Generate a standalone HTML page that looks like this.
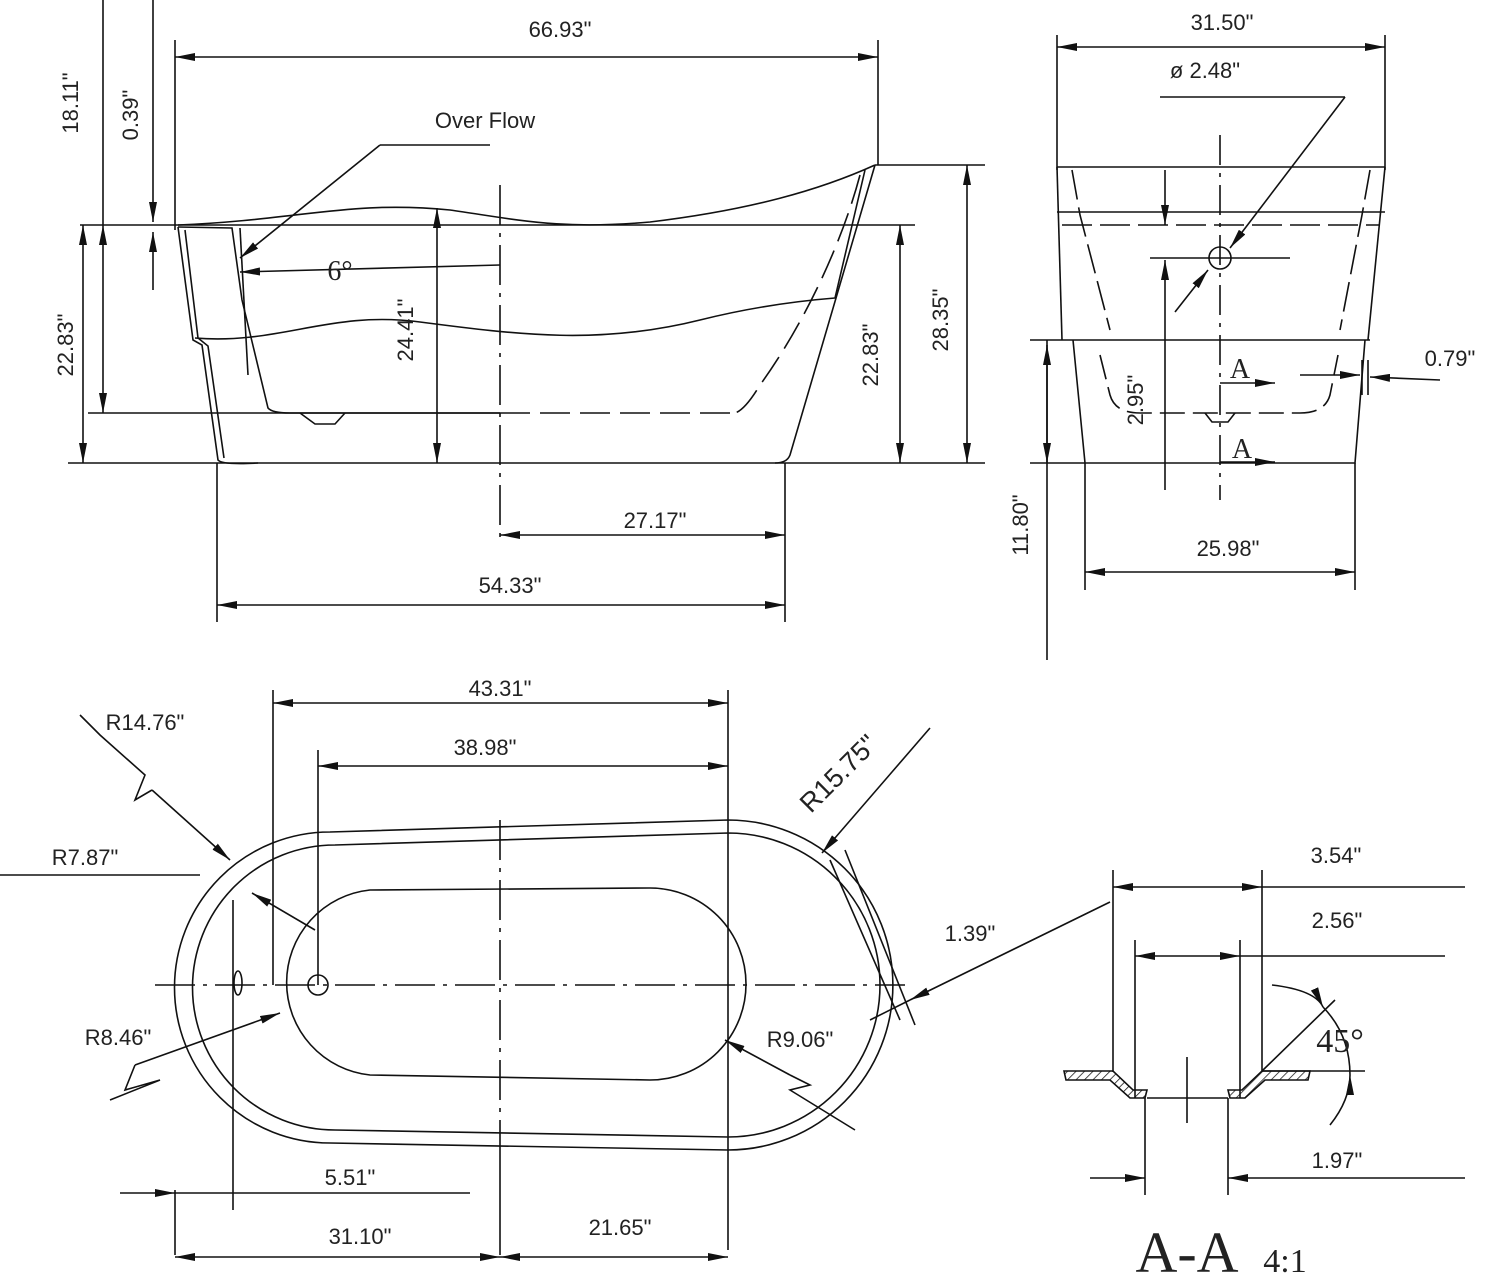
<!DOCTYPE html>
<html><head><meta charset="utf-8"><style>
html,body{margin:0;padding:0;background:#fff;}
svg{display:block}
text{font-family:"Liberation Sans",sans-serif;font-size:22px;fill:#222;}
.s{font-family:"Liberation Serif",serif;}
</style></head><body>
<svg width="1500" height="1282" viewBox="0 0 1500 1282" xmlns="http://www.w3.org/2000/svg">
<defs>
<marker id="a" viewBox="0 0 20 8" refX="20" refY="4" markerWidth="20" markerHeight="8" orient="auto-start-reverse" markerUnits="userSpaceOnUse"><path d="M0,0 L20,4 L0,8z" fill="#111"/></marker>
<pattern id="h" width="6" height="6" patternUnits="userSpaceOnUse" patternTransform="rotate(45)"><line x1="0" y1="0" x2="0" y2="6" stroke="#111" stroke-width="1.5"/></pattern>
</defs>
<g stroke="#111" stroke-width="1.6" fill="none">
<!-- TOP LEFT: side view -->
<line x1="103" y1="0" x2="103" y2="225"/>
<line x1="153" y1="0" x2="153" y2="222" marker-end="url(#a)"/>
<line x1="153" y1="290" x2="153" y2="232" marker-end="url(#a)"/>
<line x1="175" y1="40" x2="175" y2="230"/>
<line x1="175" y1="57" x2="878" y2="57" marker-start="url(#a)" marker-end="url(#a)"/>
<line x1="878" y1="40" x2="878" y2="165"/>
<line x1="875" y1="165" x2="985" y2="165"/>
<line x1="80" y1="225" x2="915" y2="225"/>
<line x1="88" y1="413" x2="500" y2="413"/>
<line x1="500" y1="413" x2="740" y2="413" stroke-dasharray="30,10"/>
<line x1="68" y1="463" x2="985" y2="463"/>
<line x1="83" y1="225" x2="83" y2="463" marker-start="url(#a)" marker-end="url(#a)"/>
<line x1="103" y1="225" x2="103" y2="413" marker-start="url(#a)" marker-end="url(#a)"/>
<line x1="437" y1="208" x2="437" y2="463" marker-start="url(#a)" marker-end="url(#a)"/>
<line x1="900" y1="225" x2="900" y2="463" marker-start="url(#a)" marker-end="url(#a)"/>
<line x1="967" y1="165" x2="967" y2="463" marker-start="url(#a)" marker-end="url(#a)"/>
<line x1="500" y1="185" x2="500" y2="545" stroke-dasharray="40,8,4,8"/>
<line x1="500" y1="535" x2="785" y2="535" marker-start="url(#a)" marker-end="url(#a)"/>
<line x1="217" y1="605" x2="785" y2="605" marker-start="url(#a)" marker-end="url(#a)"/>
<line x1="217" y1="463" x2="217" y2="622"/>
<line x1="785" y1="463" x2="785" y2="622"/>
<path d="M178,225 C300,220 350,200 450,210 C520,220 560,230 650,222 C750,210 820,190 875,165"/>
<path d="M875,165 L790,455 Q787,463 775,463"/>
<path d="M178,227 L193,340 L202,345 L218,460 Q222,465 258,463"/>
<path d="M185,230 L198,338 L208,346 L224,458"/>
<path d="M178,227 L232,228 L242,300 L268,408 Q272,413 290,413 L500,413"/>
<path d="M860,175 C840,250 800,330 760,385 Q745,410 735,413" stroke-dasharray="30,10"/>
<path d="M195,338 C280,345 330,310 420,322 C520,335 600,345 700,320 C760,305 810,300 835,298 L865,170"/>
<path d="M240,228 L248,375"/>
<path d="M300,413 L315,424 L335,424 L345,413"/>
<line x1="490" y1="145" x2="380" y2="145"/>
<line x1="380" y1="145" x2="240" y2="258" marker-end="url(#a)"/>
<line x1="500" y1="265" x2="240" y2="272" marker-end="url(#a)"/>
<!-- TOP RIGHT: end view -->
<line x1="1057" y1="35" x2="1057" y2="170"/>
<line x1="1385" y1="35" x2="1385" y2="170"/>
<line x1="1057" y1="47" x2="1385" y2="47" marker-start="url(#a)" marker-end="url(#a)"/>
<line x1="1057" y1="167" x2="1385" y2="167"/>
<line x1="1057" y1="167" x2="1062" y2="340"/>
<line x1="1385" y1="167" x2="1368" y2="340"/>
<line x1="1057" y1="212" x2="1385" y2="212"/>
<line x1="1062" y1="225" x2="1380" y2="225" stroke-dasharray="30,8"/>
<path d="M1072,170 L1080,215 L1110,330" stroke-dasharray="30,8"/>
<path d="M1370,170 L1362,215 L1340,330" stroke-dasharray="30,8"/>
<line x1="1030" y1="340" x2="1370" y2="340"/>
<path d="M1073,340 L1085,463 L1355,463 L1365,340"/>
<path d="M1100,355 L1110,395 Q1115,413 1140,413 L1300,413 Q1325,413 1330,395 L1338,355" stroke-dasharray="25,8"/>
<line x1="1047" y1="340" x2="1047" y2="660"/>
<line x1="1047" y1="345" x2="1047" y2="463" marker-start="url(#a)" marker-end="url(#a)"/>
<line x1="1030" y1="463" x2="1085" y2="463"/>
<line x1="1085" y1="463" x2="1085" y2="590"/>
<line x1="1355" y1="463" x2="1355" y2="590"/>
<line x1="1085" y1="572" x2="1355" y2="572" marker-start="url(#a)" marker-end="url(#a)"/>
<line x1="1220" y1="135" x2="1220" y2="500" stroke-dasharray="30,8,4,8"/>
<line x1="1160" y1="97" x2="1345" y2="97"/>
<line x1="1345" y1="97" x2="1230" y2="248" marker-end="url(#a)"/>
<line x1="1175" y1="312" x2="1208" y2="270" marker-end="url(#a)"/>
<circle cx="1220" cy="258" r="11"/>
<line x1="1150" y1="258" x2="1290" y2="258"/>
<line x1="1165" y1="170" x2="1165" y2="225" marker-end="url(#a)"/>
<line x1="1165" y1="490" x2="1165" y2="260" marker-end="url(#a)"/>
<line x1="1220" y1="383" x2="1275" y2="383" marker-end="url(#a)"/>
<line x1="1220" y1="462" x2="1275" y2="462" marker-end="url(#a)"/>
<path d="M1205,413 L1212,422 L1228,422 L1235,413"/>
<line x1="1300" y1="375" x2="1360" y2="375" marker-end="url(#a)"/>
<line x1="1440" y1="380" x2="1370" y2="377" marker-end="url(#a)"/>
<line x1="1362" y1="360" x2="1362" y2="395"/><line x1="1368" y1="360" x2="1368" y2="395"/>
<!-- BOTTOM LEFT: plan view -->
<path d="M330,832 L728,820 A165,165 0 0 1 728,1150 L330,1143 A155,155 0 0 1 330,832z"/>
<path d="M335,845 L728,833 A152,152 0 0 1 728,1137 L335,1130 A142,142 0 0 1 335,845z"/>
<path d="M370,890 L650,888 A96,96 0 0 1 650,1080 L370,1075 A93,93 0 0 1 370,890z"/>
<line x1="155" y1="985" x2="905" y2="985" stroke-dasharray="40,8,4,8"/>
<line x1="500" y1="820" x2="500" y2="1150" stroke-dasharray="40,8,4,8"/>
<circle cx="318" cy="985" r="10"/>
<ellipse cx="238" cy="983" rx="4" ry="12"/>
<line x1="273" y1="690" x2="273" y2="985"/>
<line x1="318" y1="750" x2="318" y2="985"/>
<line x1="728" y1="690" x2="728" y2="1250"/>
<line x1="233" y1="900" x2="233" y2="1210"/>
<line x1="175" y1="1190" x2="175" y2="1255"/>
<line x1="500" y1="1150" x2="500" y2="1255"/>
<line x1="273" y1="703" x2="728" y2="703" marker-start="url(#a)" marker-end="url(#a)"/>
<line x1="318" y1="766" x2="728" y2="766" marker-start="url(#a)" marker-end="url(#a)"/>
<line x1="120" y1="1193" x2="175" y2="1193" marker-end="url(#a)"/>
<line x1="175" y1="1193" x2="470" y2="1193"/>
<line x1="175" y1="1257" x2="500" y2="1257" marker-start="url(#a)" marker-end="url(#a)"/>
<line x1="500" y1="1257" x2="728" y2="1257" marker-start="url(#a)" marker-end="url(#a)"/>
<path d="M80,715 L100,735 L145,775 L135,800 L152,790"/>
<line x1="152" y1="790" x2="230" y2="860" marker-end="url(#a)"/>
<line x1="0" y1="875" x2="200" y2="875"/>
<line x1="315" y1="930" x2="252" y2="893" marker-end="url(#a)"/>
<path d="M110,1100 L160,1080 L125,1090 L135,1065"/>
<line x1="135" y1="1065" x2="280" y2="1013" marker-end="url(#a)"/>
<path d="M855,1130 L790,1090 L810,1085 L790,1075"/>
<line x1="790" y1="1075" x2="725" y2="1040" marker-end="url(#a)"/>
<line x1="930" y1="728" x2="822" y2="853" marker-end="url(#a)"/>
<line x1="830" y1="860" x2="900" y2="1020"/>
<line x1="845" y1="850" x2="915" y2="1025"/>
<line x1="1110" y1="902" x2="910" y2="1000" marker-end="url(#a)"/>
<line x1="910" y1="1000" x2="870" y2="1020"/>
<!-- BOTTOM RIGHT: section A-A -->
<line x1="1113" y1="870" x2="1113" y2="1072"/>
<line x1="1262" y1="870" x2="1262" y2="1072"/>
<line x1="1113" y1="887" x2="1262" y2="887" marker-start="url(#a)" marker-end="url(#a)"/>
<line x1="1262" y1="887" x2="1465" y2="887"/>
<line x1="1135" y1="940" x2="1135" y2="1098"/>
<line x1="1240" y1="940" x2="1240" y2="1098"/>
<line x1="1135" y1="956" x2="1240" y2="956" marker-start="url(#a)" marker-end="url(#a)"/>
<line x1="1240" y1="956" x2="1445" y2="956"/>
<path d="M1064,1071 H1113 L1133,1090 H1147 L1145,1098 H1130 L1110,1080 H1066 Z" fill="url(#h)"/>
<path d="M1310,1071 H1262 L1242,1090 H1228 L1230,1098 H1245 L1265,1080 H1308 Z" fill="url(#h)"/>
<line x1="1147" y1="1098" x2="1228" y2="1098"/>
<line x1="1262" y1="1071" x2="1365" y2="1071"/>
<line x1="1187" y1="1057" x2="1187" y2="1123"/>
<line x1="1262" y1="1071" x2="1335" y2="1000"/>
<path d="M1272,985 Q1315,990 1323,1007" marker-end="url(#a)"/>
<path d="M1330,1125 Q1350,1100 1350,1075" marker-end="url(#a)"/>
<path d="M1323,1007 Q1350,1035 1350,1075"/>
<line x1="1145" y1="1098" x2="1145" y2="1195"/>
<line x1="1228" y1="1098" x2="1228" y2="1195"/>
<line x1="1090" y1="1178" x2="1145" y2="1178" marker-end="url(#a)"/>
<line x1="1465" y1="1178" x2="1228" y2="1178" marker-end="url(#a)"/>
</g>
<text x="560" y="37" text-anchor="middle">66.93"</text>
<text x="485" y="128" text-anchor="middle">Over Flow</text>
<text x="340" y="280" class="s" text-anchor="middle" style="font-size:28px">6°</text>
<text transform="translate(78,103) rotate(-90)" text-anchor="middle">18.11"</text>
<text transform="translate(138,115) rotate(-90)" text-anchor="middle">0.39"</text>
<text transform="translate(73,345) rotate(-90)" text-anchor="middle">22.83"</text>
<text transform="translate(413,330) rotate(-90)" text-anchor="middle">24.41"</text>
<text transform="translate(878,355) rotate(-90)" text-anchor="middle">22.83"</text>
<text transform="translate(948,320) rotate(-90)" text-anchor="middle">28.35"</text>
<text x="655" y="528" text-anchor="middle">27.17"</text>
<text x="510" y="593" text-anchor="middle">54.33"</text>
<text x="1222" y="30" text-anchor="middle">31.50"</text>
<text x="1205" y="78" text-anchor="middle">ø 2.48"</text>
<text x="1450" y="366" text-anchor="middle">0.79"</text>
<text transform="translate(1143,400) rotate(-90)" text-anchor="middle">2.95"</text>
<text x="1240" y="378" class="s" text-anchor="middle" style="font-size:28px">A</text>
<text x="1242" y="458" class="s" text-anchor="middle" style="font-size:28px">A</text>
<text transform="translate(1028,525) rotate(-90)" text-anchor="middle">11.80"</text>
<text x="1228" y="556" text-anchor="middle">25.98"</text>
<text x="500" y="696" text-anchor="middle">43.31"</text>
<text x="485" y="755" text-anchor="middle">38.98"</text>
<text x="145" y="730" text-anchor="middle">R14.76"</text>
<text transform="translate(845,780) rotate(-45)" text-anchor="middle" style="font-size:27px">R15.75"</text>
<text x="85" y="865" text-anchor="middle">R7.87"</text>
<text x="118" y="1045" text-anchor="middle">R8.46"</text>
<text x="800" y="1047" text-anchor="middle">R9.06"</text>
<text x="970" y="941" text-anchor="middle">1.39"</text>
<text x="350" y="1185" text-anchor="middle">5.51"</text>
<text x="360" y="1244" text-anchor="middle">31.10"</text>
<text x="620" y="1235" text-anchor="middle">21.65"</text>
<text x="1336" y="863" text-anchor="middle">3.54"</text>
<text x="1337" y="928" text-anchor="middle">2.56"</text>
<text x="1340" y="1052" class="s" text-anchor="middle" style="font-size:34px">45°</text>
<text x="1337" y="1168" text-anchor="middle">1.97"</text>
<text x="1187" y="1272" class="s" text-anchor="middle" style="font-size:58px">A-A</text>
<text x="1285" y="1272" class="s" text-anchor="middle" style="font-size:34px">4:1</text>
</svg>
</body></html>
